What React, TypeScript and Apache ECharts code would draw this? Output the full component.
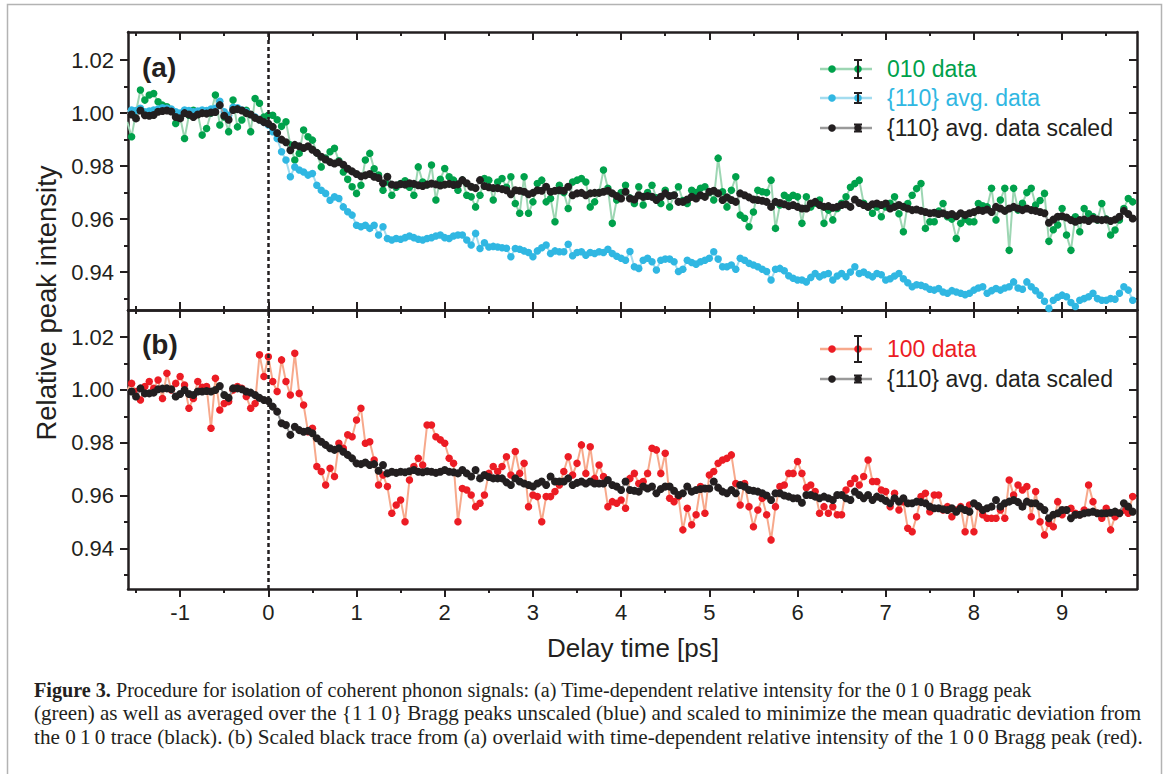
import React, { useEffect, useRef } from "react";
import * as echarts from "echarts";

// sampling grid of the delay-time axis (ps)
const TIME_START = -1.6;
const TIME_STEP = 0.05;

const X_RANGE = [-1.591, 9.849];
const Y_RANGE_A = [0.9257, 1.0306];
const Y_RANGE_B = [0.9246, 1.0303];
const X_MAJOR = [-1, 0, 1, 2, 3, 4, 5, 6, 7, 8, 9];
const X_MINOR = [-1.5, -0.5, 0.5, 1.5, 2.5, 3.5, 4.5, 5.5, 6.5, 7.5, 8.5, 9.5];
const Y_MAJOR = [0.94, 0.96, 0.98, 1.0, 1.02];
const Y_MINOR = [0.93, 0.95, 0.97, 0.99, 1.01];

// panel (a): 010 data
const GREEN_010 = [
  0.9967, 0.9911, 1.0005, 1.0087, 1.0049, 1.0068, 1.0074, 1.0043, 1.0030, 1.0024,
  1.0010, 0.9961, 0.9985, 0.9904, 0.9992, 1.0011, 0.9998, 0.9917, 0.9942, 1.0000,
  1.0068, 0.9955, 0.9985, 0.9930, 1.0049, 0.9948, 0.9974, 1.0011, 0.9930, 1.0055,
  1.0037, 0.9985, 0.9992, 0.9992, 0.9975, 0.9950, 0.9967, 0.9880, 0.9823, 0.9848,
  0.9936, 0.9911, 0.9898, 0.9850, 0.9797, 0.9830, 0.9854, 0.9867, 0.9820, 0.9778,
  0.9750, 0.9722, 0.9697, 0.9728, 0.9823, 0.9848, 0.9790, 0.9766, 0.9709, 0.9740,
  0.9690, 0.9720, 0.9734, 0.9745, 0.9720, 0.9690, 0.9797, 0.9740, 0.9730, 0.9804,
  0.9672, 0.9750, 0.9791, 0.9760, 0.9747, 0.9709, 0.9747, 0.9690, 0.9684, 0.9646,
  0.9690, 0.9753, 0.9747, 0.9672, 0.9740, 0.9753, 0.9720, 0.9760, 0.9659, 0.9622,
  0.9760, 0.9622, 0.9665, 0.9734, 0.9747, 0.9665, 0.9678, 0.9590, 0.9728, 0.9700,
  0.9640, 0.9740, 0.9747, 0.9753, 0.9740, 0.9646, 0.9665, 0.9700, 0.9785, 0.9716,
  0.9584, 0.9672, 0.9700, 0.9728, 0.9680, 0.9659, 0.9722, 0.9653, 0.9700, 0.9728,
  0.9680, 0.9659, 0.9709, 0.9646, 0.9690, 0.9722, 0.9670, 0.9659, 0.9709, 0.9700,
  0.9716, 0.9722, 0.9700, 0.9672, 0.9830, 0.9703, 0.9646, 0.9709, 0.9760, 0.9615,
  0.9603, 0.9571, 0.9627, 0.9709, 0.9703, 0.9700, 0.9747, 0.9565, 0.9653, 0.9690,
  0.9680, 0.9690, 0.9684, 0.9584, 0.9684, 0.9646, 0.9660, 0.9672, 0.9584, 0.9634,
  0.9597, 0.9640, 0.9660, 0.9684, 0.9720, 0.9734, 0.9747, 0.9660, 0.9646, 0.9622,
  0.9646, 0.9609, 0.9646, 0.9660, 0.9684, 0.9620, 0.9552, 0.9659, 0.9690, 0.9715,
  0.9734, 0.9565, 0.9590, 0.9590, 0.9630, 0.9659, 0.9609, 0.9600, 0.9527, 0.9584,
  0.9600, 0.9590, 0.9590, 0.9659, 0.9650, 0.9646, 0.9716, 0.9597, 0.9672, 0.9716,
  0.9482, 0.9716, 0.9634, 0.9660, 0.9700, 0.9716, 0.9653, 0.9670, 0.9697, 0.9516,
  0.9560, 0.9578, 0.9640, 0.9540, 0.9482, 0.9609, 0.9552, 0.9640, 0.9620, 0.9610,
  0.9597, 0.9659, 0.9600, 0.9540, 0.9559, 0.9597, 0.9640, 0.9678, 0.9665,
];

// panel (a): {110} avg. data (unscaled)
const CYAN_110 = [
  1.0008, 1.0012, 1.0010, 1.0018, 1.0005, 1.0008, 1.0012, 1.0015, 1.0020, 1.0018,
  1.0015, 1.0005, 1.0000, 1.0012, 1.0010, 1.0005, 1.0008, 1.0012, 1.0010, 1.0015,
  1.0018, 1.0045, 1.0005, 0.9992, 1.0022, 1.0020, 1.0012, 1.0005, 0.9995, 0.9985,
  0.9975, 0.9965, 0.9955, 0.9930, 0.9904, 0.9854, 0.9823, 0.9760, 0.9797, 0.9785,
  0.9778, 0.9766, 0.9772, 0.9728, 0.9709, 0.9697, 0.9671, 0.9684, 0.9678, 0.9646,
  0.9628, 0.9615, 0.9577, 0.9571, 0.9577, 0.9565, 0.9577, 0.9540, 0.9571, 0.9527,
  0.9521, 0.9527, 0.9524, 0.9530, 0.9536, 0.9530, 0.9524, 0.9521, 0.9527, 0.9530,
  0.9536, 0.9540, 0.9530, 0.9527, 0.9536, 0.9540, 0.9540, 0.9521, 0.9502, 0.9546,
  0.9489, 0.9511, 0.9495, 0.9497, 0.9495, 0.9492, 0.9490, 0.9458, 0.9489, 0.9486,
  0.9480, 0.9474, 0.9458, 0.9480, 0.9492, 0.9502, 0.9470, 0.9480, 0.9477, 0.9477,
  0.9505, 0.9462, 0.9474, 0.9477, 0.9464, 0.9474, 0.9470, 0.9477, 0.9474, 0.9486,
  0.9470, 0.9460, 0.9452, 0.9445, 0.9478, 0.9420, 0.9414, 0.9445, 0.9452, 0.9439,
  0.9408, 0.9445, 0.9449, 0.9449, 0.9439, 0.9402, 0.9411, 0.9445, 0.9436, 0.9430,
  0.9439, 0.9445, 0.9452, 0.9477, 0.9449, 0.9420, 0.9420, 0.9427, 0.9411, 0.9452,
  0.9445, 0.9433, 0.9427, 0.9420, 0.9411, 0.9402, 0.9370, 0.9411, 0.9414, 0.9405,
  0.9386, 0.9377, 0.9370, 0.9370, 0.9363, 0.9380, 0.9395, 0.9382, 0.9390, 0.9395,
  0.9370, 0.9385, 0.9395, 0.9382, 0.9400, 0.9420, 0.9395, 0.9400, 0.9390, 0.9382,
  0.9395, 0.9390, 0.9370, 0.9375, 0.9385, 0.9395, 0.9375, 0.9360, 0.9345, 0.9352,
  0.9350, 0.9345, 0.9335, 0.9332, 0.9338, 0.9325, 0.9320, 0.9330, 0.9325, 0.9320,
  0.9315, 0.9320, 0.9332, 0.9340, 0.9345, 0.9320, 0.9330, 0.9338, 0.9332, 0.9340,
  0.9345, 0.9363, 0.9340, 0.9335, 0.9363, 0.9345, 0.9330, 0.9313, 0.9290, 0.9263,
  0.9294, 0.9305, 0.9313, 0.9307, 0.9285, 0.9270, 0.9294, 0.9300, 0.9307, 0.9320,
  0.9300, 0.9294, 0.9294, 0.9300, 0.9298, 0.9320, 0.9345, 0.9332, 0.9294,
];

// panel (a): {110} avg. data scaled
const BLACK_SCALED_A = [
  1.0000, 0.9995, 0.9980, 1.0010, 0.9992, 0.9990, 0.9993, 1.0005, 1.0008, 1.0010,
  1.0006, 0.9985, 0.9980, 1.0000, 0.9995, 0.9985, 0.9995, 1.0000, 0.9998, 1.0002,
  1.0004, 1.0030, 0.9990, 0.9975, 1.0012, 1.0015, 1.0010, 1.0000, 0.9995, 0.9982,
  0.9975, 0.9966, 0.9960, 0.9948, 0.9925, 0.9900, 0.9890, 0.9860, 0.9880, 0.9875,
  0.9868, 0.9875, 0.9862, 0.9850, 0.9835, 0.9825, 0.9815, 0.9810, 0.9815, 0.9805,
  0.9790, 0.9780, 0.9770, 0.9762, 0.9765, 0.9770, 0.9760, 0.9755, 0.9735, 0.9760,
  0.9730, 0.9728, 0.9732, 0.9730, 0.9735, 0.9733, 0.9728, 0.9725, 0.9730, 0.9734,
  0.9731, 0.9727, 0.9730, 0.9733, 0.9729, 0.9731, 0.9747, 0.9735, 0.9722, 0.9717,
  0.9747, 0.9725, 0.9720, 0.9717, 0.9717, 0.9713, 0.9709, 0.9694, 0.9709, 0.9707,
  0.9703, 0.9694, 0.9699, 0.9709, 0.9707, 0.9722, 0.9703, 0.9707, 0.9709, 0.9707,
  0.9722, 0.9690, 0.9697, 0.9699, 0.9690, 0.9697, 0.9699, 0.9699, 0.9703, 0.9707,
  0.9697, 0.9687, 0.9678, 0.9703, 0.9678, 0.9674, 0.9690, 0.9684, 0.9687, 0.9684,
  0.9672, 0.9684, 0.9697, 0.9687, 0.9690, 0.9665, 0.9665, 0.9674, 0.9684, 0.9678,
  0.9690, 0.9684, 0.9703, 0.9707, 0.9697, 0.9672, 0.9682, 0.9672, 0.9665, 0.9697,
  0.9690, 0.9682, 0.9674, 0.9672, 0.9669, 0.9665, 0.9646, 0.9665, 0.9661, 0.9656,
  0.9649, 0.9653, 0.9646, 0.9640, 0.9640, 0.9659, 0.9665, 0.9653, 0.9646, 0.9649,
  0.9643, 0.9646, 0.9653, 0.9656, 0.9646, 0.9674, 0.9661, 0.9653, 0.9646, 0.9656,
  0.9659, 0.9653, 0.9659, 0.9640, 0.9646, 0.9653, 0.9646, 0.9640, 0.9634, 0.9636,
  0.9631, 0.9627, 0.9622, 0.9624, 0.9619, 0.9622, 0.9615, 0.9619, 0.9611, 0.9622,
  0.9615, 0.9622, 0.9627, 0.9634, 0.9631, 0.9636, 0.9627, 0.9646, 0.9640, 0.9631,
  0.9640, 0.9646, 0.9640, 0.9634, 0.9640, 0.9634, 0.9631, 0.9627, 0.9622, 0.9586,
  0.9598, 0.9609, 0.9611, 0.9606, 0.9596, 0.9590, 0.9596, 0.9598, 0.9593, 0.9602,
  0.9598, 0.9596, 0.9598, 0.9593, 0.9598, 0.9609, 0.9631, 0.9619, 0.9602,
];

// panel (b): 100 data
const RED_100 = [
  1.0000, 1.0025, 0.9994, 0.9962, 1.0013, 1.0032, 1.0006, 1.0038, 0.9968, 1.0063,
  1.0000, 1.0025, 1.0051, 1.0019, 0.9931, 0.9968, 1.0032, 1.0010, 1.0013, 0.9855,
  1.0044, 0.9924, 0.9949, 0.9956, 1.0000, 1.0013, 1.0006, 0.9975, 0.9931, 0.9949,
  1.0133, 1.0051, 1.0126, 1.0032, 0.9994, 1.0114, 1.0032, 0.9981, 1.0139, 0.9987,
  0.9943, 0.9842, 0.9855, 0.9710, 0.9691, 0.9640, 0.9703, 0.9672, 0.9798, 0.9779,
  0.9830, 0.9823, 0.9886, 0.9931, 0.9798, 0.9804, 0.9735, 0.9640, 0.9678, 0.9634,
  0.9533, 0.9564, 0.9583, 0.9501, 0.9659, 0.9710, 0.9741, 0.9716, 0.9867, 0.9867,
  0.9823, 0.9811, 0.9798, 0.9741, 0.9722, 0.9501, 0.9627, 0.9621, 0.9602, 0.9558,
  0.9571, 0.9602, 0.9684, 0.9710, 0.9691, 0.9710, 0.9747, 0.9678, 0.9767, 0.9684,
  0.9722, 0.9558, 0.9602, 0.9596, 0.9501, 0.9596, 0.9596, 0.9615, 0.9640, 0.9691,
  0.9747, 0.9678, 0.9722, 0.9792, 0.9684, 0.9785, 0.9665, 0.9716, 0.9672, 0.9558,
  0.9577, 0.9571, 0.9583, 0.9552, 0.9665, 0.9684, 0.9646, 0.9653, 0.9684, 0.9779,
  0.9773, 0.9684, 0.9760, 0.9590, 0.9577, 0.9596, 0.9470, 0.9552, 0.9489, 0.9527,
  0.9634, 0.9533, 0.9678, 0.9691, 0.9722, 0.9735, 0.9741, 0.9754, 0.9646, 0.9564,
  0.9646, 0.9558, 0.9482, 0.9545, 0.9590, 0.9527, 0.9432, 0.9558, 0.9634, 0.9640,
  0.9684, 0.9684, 0.9729, 0.9684, 0.9630, 0.9640, 0.9615, 0.9533, 0.9558, 0.9533,
  0.9558, 0.9527, 0.9527, 0.9621, 0.9646, 0.9665, 0.9640, 0.9672, 0.9735, 0.9653,
  0.9653, 0.9621, 0.9615, 0.9558, 0.9609, 0.9545, 0.9577, 0.9476, 0.9463, 0.9520,
  0.9596, 0.9609, 0.9539, 0.9602, 0.9602, 0.9545, 0.9558, 0.9520, 0.9545, 0.9558,
  0.9463, 0.9564, 0.9463, 0.9558, 0.9527, 0.9514, 0.9514, 0.9514, 0.9545, 0.9514,
  0.9659, 0.9602, 0.9640, 0.9621, 0.9634, 0.9520, 0.9615, 0.9501, 0.9451, 0.9495,
  0.9482, 0.9577, 0.9527, 0.9545, 0.9552, 0.9533, 0.9527, 0.9545, 0.9640, 0.9577,
  0.9533, 0.9514, 0.9552, 0.9470, 0.9520, 0.9533, 0.9545, 0.9533, 0.9596,
];

// panel (b): {110} avg. data scaled
const BLACK_SCALED_B = [
  1.0000, 0.9994, 0.9975, 1.0006, 0.9987, 0.9987, 0.9990, 1.0003, 1.0005, 1.0006,
  1.0003, 0.9975, 0.9985, 1.0000, 0.9985, 0.9981, 0.9994, 0.9994, 0.9996, 0.9994,
  1.0000, 1.0015, 0.9981, 0.9970, 1.0006, 1.0006, 1.0003, 0.9994, 0.9990, 0.9981,
  0.9970, 0.9962, 0.9958, 0.9937, 0.9918, 0.9874, 0.9867, 0.9830, 0.9861, 0.9848,
  0.9842, 0.9845, 0.9836, 0.9817, 0.9804, 0.9792, 0.9779, 0.9773, 0.9779, 0.9766,
  0.9754, 0.9741, 0.9722, 0.9719, 0.9725, 0.9716, 0.9719, 0.9694, 0.9716, 0.9684,
  0.9690, 0.9686, 0.9690, 0.9688, 0.9692, 0.9697, 0.9690, 0.9688, 0.9692, 0.9690,
  0.9686, 0.9690, 0.9697, 0.9690, 0.9688, 0.9684, 0.9697, 0.9684, 0.9672, 0.9697,
  0.9665, 0.9678, 0.9670, 0.9665, 0.9665, 0.9665, 0.9650, 0.9640, 0.9665, 0.9653,
  0.9646, 0.9640, 0.9634, 0.9646, 0.9653, 0.9640, 0.9672, 0.9653, 0.9653, 0.9653,
  0.9665, 0.9640, 0.9648, 0.9653, 0.9646, 0.9653, 0.9646, 0.9646, 0.9646, 0.9659,
  0.9640, 0.9634, 0.9621, 0.9653, 0.9621, 0.9618, 0.9615, 0.9634, 0.9627, 0.9634,
  0.9609, 0.9625, 0.9634, 0.9634, 0.9618, 0.9602, 0.9609, 0.9634, 0.9615, 0.9621,
  0.9625, 0.9627, 0.9627, 0.9653, 0.9630, 0.9615, 0.9609, 0.9621, 0.9609, 0.9640,
  0.9634, 0.9621, 0.9618, 0.9615, 0.9609, 0.9600, 0.9583, 0.9609, 0.9609, 0.9600,
  0.9596, 0.9590, 0.9590, 0.9573, 0.9602, 0.9602, 0.9596, 0.9590, 0.9596, 0.9590,
  0.9583, 0.9602, 0.9602, 0.9590, 0.9583, 0.9615, 0.9602, 0.9590, 0.9602, 0.9583,
  0.9596, 0.9590, 0.9580, 0.9571, 0.9590, 0.9577, 0.9590, 0.9571, 0.9571, 0.9577,
  0.9575, 0.9571, 0.9558, 0.9552, 0.9552, 0.9548, 0.9545, 0.9552, 0.9539, 0.9552,
  0.9545, 0.9539, 0.9571, 0.9560, 0.9545, 0.9552, 0.9558, 0.9583, 0.9558, 0.9571,
  0.9577, 0.9583, 0.9575, 0.9558, 0.9577, 0.9571, 0.9571, 0.9558, 0.9545, 0.9514,
  0.9527, 0.9533, 0.9545, 0.9545, 0.9514, 0.9527, 0.9527, 0.9533, 0.9536, 0.9539,
  0.9533, 0.9533, 0.9533, 0.9535, 0.9539, 0.9533, 0.9571, 0.9558, 0.9539,
];

const INK = "#231f20";
const GREEN = "#00a14b";
const GREEN_LINE = "#9dd6b3";
const CYAN = "#30b7e2";
const CYAN_LINE = "#a3dcef";
const RED = "#ec1c24";
const RED_LINE = "#f7a98c";
const BLACK_LINE = "#9a9a9a";
const SANS = "'Liberation Sans', Arial, Helvetica, sans-serif";
const SERIF = "'Liberation Serif', 'Times New Roman', serif";

const pairs = (vals: number[]) =>
  vals.map((v, i) => [Math.round((TIME_START + i * TIME_STEP) * 1000) / 1000, v]);

const tickStyle = { color: INK, width: 2 };

function xAxesFor(g: number, labels: boolean, bottomInside: boolean) {
  const base = {
    gridIndex: g,
    type: "value",
    min: X_RANGE[0],
    max: X_RANGE[1],
    splitLine: { show: false },
  };
  return [
    {
      ...base,
      position: "bottom",
      axisLine: { show: true, onZero: false, lineStyle: { color: INK, width: 2.5 } },
      axisTick: { show: true, inside: bottomInside, length: 8, customValues: X_MAJOR, lineStyle: tickStyle },
      axisLabel: {
        show: labels,
        customValues: X_MAJOR,
        margin: 12,
        fontSize: 22,
        color: INK,
        fontFamily: SANS,
      },
    },
    {
      ...base,
      position: "bottom",
      axisLine: { show: false, onZero: false },
      axisTick: { show: true, inside: bottomInside, length: 4, customValues: X_MINOR, lineStyle: tickStyle },
      axisLabel: { show: false },
    },
    {
      ...base,
      position: "top",
      axisLine: { show: true, onZero: false, lineStyle: { color: INK, width: 2.5 } },
      axisTick: { show: true, inside: true, length: 8, customValues: X_MAJOR, lineStyle: tickStyle },
      axisLabel: { show: false },
    },
    {
      ...base,
      position: "top",
      axisLine: { show: false, onZero: false },
      axisTick: { show: true, inside: true, length: 4, customValues: X_MINOR, lineStyle: tickStyle },
      axisLabel: { show: false },
    },
  ];
}

function yAxesFor(g: number, range: number[]) {
  const base = {
    gridIndex: g,
    type: "value",
    min: range[0],
    max: range[1],
    splitLine: { show: false },
  };
  return [
    {
      ...base,
      position: "left",
      axisLine: { show: true, onZero: false, lineStyle: { color: INK, width: 2.5 } },
      axisTick: { show: true, inside: false, length: 8, customValues: Y_MAJOR, lineStyle: tickStyle },
      axisLabel: {
        show: true,
        customValues: Y_MAJOR,
        margin: 14,
        fontSize: 22,
        color: INK,
        fontFamily: SANS,
        formatter: (v: number) => v.toFixed(2),
      },
    },
    {
      ...base,
      position: "left",
      axisLine: { show: false, onZero: false },
      axisTick: { show: true, inside: false, length: 4, customValues: Y_MINOR, lineStyle: tickStyle },
      axisLabel: { show: false },
    },
    {
      ...base,
      position: "right",
      axisLine: { show: true, onZero: false, lineStyle: { color: INK, width: 2.5 } },
      axisTick: { show: true, inside: true, length: 8, customValues: Y_MAJOR, lineStyle: tickStyle },
      axisLabel: { show: false },
    },
    {
      ...base,
      position: "right",
      axisLine: { show: false, onZero: false },
      axisTick: { show: true, inside: true, length: 4, customValues: Y_MINOR, lineStyle: tickStyle },
      axisLabel: { show: false },
    },
  ];
}

const zeroLine = {
  silent: true,
  symbol: ["none", "none"],
  label: { show: false },
  lineStyle: { color: INK, width: 2.5, type: [4, 3] },
  data: [{ xAxis: 0 }],
};

function series(name: string, vals: number[], g: number, dot: string, line: string, z: number, size: number, mark?: boolean) {
  const s: any = {
    type: "line",
    name,
    data: pairs(vals),
    xAxisIndex: g * 4,
    yAxisIndex: g * 4,
    symbol: "circle",
    symbolSize: size,
    showSymbol: true,
    showAllSymbol: true,
    itemStyle: { color: dot },
    lineStyle: { color: line, width: 2 },
    emphasis: { disabled: true },
    silent: true,
    z,
  };
  if (mark) s.markLine = zeroLine;
  return s;
}

function legendItem(y: number, dot: string, line: string, barHalf: number, label: string, textColor: string) {
  const lx = 858;
  return [
    { type: "line", shape: { x1: 820, y1: y, x2: 872, y2: y }, style: { stroke: line, lineWidth: 2.5 } },
    { type: "circle", shape: { cx: 832, cy: y, r: 3.8 }, style: { fill: dot } },
    { type: "circle", shape: { cx: lx, cy: y, r: 3.8 }, style: { fill: dot } },
    { type: "line", shape: { x1: lx, y1: y - barHalf, x2: lx, y2: y + barHalf }, style: { stroke: INK, lineWidth: 2 } },
    { type: "line", shape: { x1: lx - 4, y1: y - barHalf, x2: lx + 4, y2: y - barHalf }, style: { stroke: INK, lineWidth: 2 } },
    { type: "line", shape: { x1: lx - 4, y1: y + barHalf, x2: lx + 4, y2: y + barHalf }, style: { stroke: INK, lineWidth: 2 } },
    {
      type: "text",
      x: 887,
      y,
      style: { text: label, fill: textColor, fontSize: 23, fontFamily: SANS, verticalAlign: "middle" },
    },
  ];
}

const CAPTION_LINES = [
  "{b|Figure 3.} Procedure for isolation of coherent phonon signals: (a) Time-dependent relative intensity for the 0\u20091\u20090 Bragg peak",
  "(green) as well as averaged over the {1\u20091\u20090} Bragg peaks unscaled (blue) and scaled to minimize the mean quadratic deviation from",
  "the 0\u20091\u20090 trace (black). (b) Scaled black trace from (a) overlaid with time-dependent relative intensity of the 1\u20090\u20090 Bragg peak (red).",
];
const CAPTION_STRETCH = [1.008, 1.053, 1.06];

export default function App() {
  const ref = useRef<HTMLDivElement>(null);
  useEffect(() => {
    if (!ref.current) return;
    const chart = echarts.init(ref.current, undefined, { renderer: "svg" });
    const captionEls = CAPTION_LINES.map((t, i) => ({
      type: "text",
      x: 34,
      y: 690 + i * 23.5,
      scaleX: CAPTION_STRETCH[i],
      style: {
        text: t,
        fill: INK,
        fontSize: 20,
        fontFamily: SERIF,
        verticalAlign: "middle",
        rich: { b: { fontWeight: "bold", fontSize: 20, fontFamily: SERIF, fill: INK } },
      },
    }));
    const option: any = {
      animation: false,
      backgroundColor: "#ffffff",
      grid: [
        { left: 128, top: 32, width: 1009, height: 278 },
        { left: 128, top: 310, width: 1009, height: 279 },
      ],
      xAxis: [...xAxesFor(0, false, true), ...xAxesFor(1, true, false)],
      yAxis: [...yAxesFor(0, Y_RANGE_A), ...yAxesFor(1, Y_RANGE_B)],
      series: [
        series("010 data", GREEN_010, 0, GREEN, GREEN_LINE, 2, 7.5, true),
        series("{110} avg. data", CYAN_110, 0, CYAN, CYAN_LINE, 3, 7.5),
        series("{110} avg. data scaled", BLACK_SCALED_A, 0, INK, BLACK_LINE, 4, 8),
        series("100 data", RED_100, 1, RED, RED_LINE, 2, 7.5, true),
        series("{110} avg. data scaled (b)", BLACK_SCALED_B, 1, INK, BLACK_LINE, 4, 8),
      ],
      graphic: [
        {
          type: "rect",
          shape: { x: 7.5, y: 4.5, width: 1154, height: 800 },
          style: { fill: "none", stroke: "#b3b3b3", lineWidth: 1.5 },
          silent: true,
        },
        { type: "text", x: 142, y: 67, style: { text: "(a)", fill: INK, fontSize: 28, fontWeight: "bold", fontFamily: SANS, verticalAlign: "middle" } },
        { type: "text", x: 142, y: 344, style: { text: "(b)", fill: INK, fontSize: 28, fontWeight: "bold", fontFamily: SANS, verticalAlign: "middle" } },
        ...legendItem(69, GREEN, GREEN_LINE, 9, "010 data", GREEN),
        ...legendItem(98, CYAN, CYAN_LINE, 5, "{110} avg. data", CYAN),
        ...legendItem(128, INK, BLACK_LINE, 3.5, "{110} avg. data scaled", INK),
        ...legendItem(349, RED, RED_LINE, 13, "100 data", RED),
        ...legendItem(379, INK, BLACK_LINE, 3.5, "{110} avg. data scaled", INK),
        {
          type: "text",
          x: 46,
          y: 303,
          rotation: Math.PI / 2,
          style: { text: "Relative peak intensity", fill: INK, fontSize: 27.5, fontFamily: SANS, align: "center", verticalAlign: "middle" },
        },
        {
          type: "text",
          x: 633,
          y: 648,
          style: { text: "Delay time [ps]", fill: INK, fontSize: 26, fontFamily: SANS, align: "center", verticalAlign: "middle" },
        },
        ...captionEls,
      ],
    };
    chart.setOption(option);
    return () => chart.dispose();
  }, []);
  return (
    <div
      ref={ref}
      style={{ position: "fixed", left: 0, top: 0, width: 1167, height: 774, background: "#fff" }}
    />
  );
}
